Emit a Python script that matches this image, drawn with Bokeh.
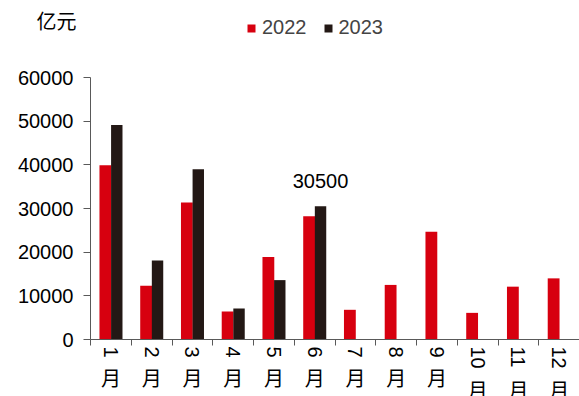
import math
from bokeh.plotting import figure
from bokeh.models import Range1d, FixedTicker, Label, Legend, LegendItem, NumeralTickFormatter
from bokeh.embed import file_html
from bokeh.resources import INLINE

# ---- data ----
months = ["1", "2", "3", "4", "5", "6", "7", "8", "9", "10", "11", "12"]
month_suffix = "月"
y2022 = [39900, 12300, 31400, 6400, 18900, 28200, 6800, 12500, 24700, 6100, 12100, 14000]
y2023 = [49100, 18100, 39000, 7100, 13600, 30500]
series_names = ["2022", "2023"]
y_ticks = [0, 10000, 20000, 30000, 40000, 50000, 60000]
unit_label = "亿元"
callout = "30500"

RED = "#D7000F"
DARK = "#231815"
AXIS = "#595959"
FONT = "Liberation Sans"
CJK = "Noto Sans CJK SC"

W, H = 579, 396
# plot-area placement inside the canvas (pixels)
FL, FR, FT, FB = 90, 579, 77, 339
ymax = y_ticks[-1]
n = len(months)
per_px_y = ymax / (FB - FT)
cat_w = (FR - FL) / n

def py(sy):  # screen y (from top) -> data y
    return (FB - sy) * per_px_y

def px(sx):  # screen x -> data x
    return (sx - FL) / cat_w

p = figure(width=W, height=H, x_range=Range1d(px(0), px(W)), y_range=Range1d(py(H), py(0)),
           output_backend="svg", toolbar_location=None,
           min_border=0, min_border_left=0, min_border_right=0,
           min_border_top=0, min_border_bottom=0)
p.outline_line_color = None
p.grid.visible = False
p.background_fill_color = "white"

xc = [i + 0.5 for i in range(n)]
r1 = p.vbar(x=[x - 0.135 for x in xc], top=y2022, width=0.29, color=RED, line_color=None)
r2 = p.vbar(x=[x + 0.145 for x in xc[:len(y2023)]], top=y2023, width=0.28, color=DARK, line_color=None)

# axes, drawn at fixed data locations
xa = p.xaxis[0]
xa.fixed_location = 0
xa.bounds = (0, n)
xa.ticker = FixedTicker(ticks=list(range(n + 1)))
xa.major_label_text_font_size = "0px"
xa.major_tick_out = 6
xa.major_tick_in = 0
xa.minor_tick_line_color = None
xa.axis_line_color = AXIS
xa.major_tick_line_color = AXIS

ya = p.yaxis[0]
ya.fixed_location = 0
ya.bounds = (0, ymax)
ya.ticker = FixedTicker(ticks=y_ticks)
ya.formatter = NumeralTickFormatter(format="0")
ya.major_tick_out = 7
ya.major_tick_in = 0
ya.minor_tick_line_color = None
ya.major_label_standoff = 10
ya.major_label_text_font = FONT
ya.major_label_text_font_size = "20px"
ya.major_label_text_color = "black"
ya.axis_line_color = AXIS
ya.major_tick_line_color = AXIS

# x category labels: rotated digits + upright 月
for i, m in enumerate(months):
    p.add_layout(Label(x=xc[i], y=py(346), text=m, angle=-math.pi / 2,
                       text_align="left", text_baseline="middle",
                       text_font=FONT, text_font_size="20px", text_color="black"))
    top = 362 if len(m) == 1 else 374
    p.add_layout(Label(x=xc[i], y=py(top), text=month_suffix,
                       text_align="center", text_baseline="top",
                       text_font=CJK, text_font_size="20px", text_color="black"))

# unit label
p.add_layout(Label(x=px(36), y=py(19.5), text=unit_label, text_align="left",
                   text_baseline="middle", text_font=CJK, text_font_size="20px",
                   text_color="black"))

# callout
p.add_layout(Label(x=xc[5] + 0.145, y=py(180), text=callout, text_align="center",
                   text_baseline="alphabetic", text_font=FONT, text_font_size="20px",
                   text_color="black"))

legend = Legend(items=[LegendItem(label=series_names[0], renderers=[r1]),
                       LegendItem(label=series_names[1], renderers=[r2])],
                orientation="horizontal", location=(246, H - 39),
                glyph_width=10, glyph_height=10, label_standoff=6, spacing=16,
                padding=0, margin=0, border_line_alpha=0, background_fill_alpha=0,
                label_text_font=FONT, label_text_font_size="20px", label_height=22)
p.add_layout(legend)

open("out.html", "w").write(file_html(p, INLINE))
